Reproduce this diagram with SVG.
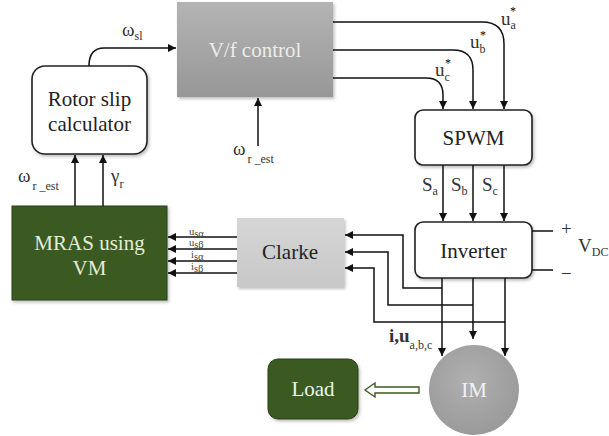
<svg xmlns="http://www.w3.org/2000/svg" width="609" height="436" viewBox="0 0 609 436" font-family="'Liberation Serif', serif">
<defs>
<linearGradient id="gVf" x1="0" y1="0" x2="0" y2="1"><stop offset="0" stop-color="#b4b4b4"/><stop offset="1" stop-color="#979797"/></linearGradient>
<linearGradient id="gCl" x1="0" y1="0" x2="0" y2="1"><stop offset="0" stop-color="#d6d6d6"/><stop offset="1" stop-color="#c8c8c8"/></linearGradient>
<radialGradient id="gIM" cx="0.45" cy="0.4" r="0.6"><stop offset="0" stop-color="#b0b0b0"/><stop offset="1" stop-color="#9a9a9a"/></radialGradient>
<filter id="sh" x="-10%" y="-10%" width="125%" height="130%"><feDropShadow dx="1.5" dy="2" stdDeviation="1.5" flood-color="#000" flood-opacity="0.25"/></filter>
<marker id="ah" viewBox="0 0 10 10" refX="10" refY="5" markerWidth="8" markerHeight="8" markerUnits="userSpaceOnUse" orient="auto"><path d="M0,0 L10,5 L0,10 z" fill="#111"/></marker>
</defs>
<style>
text{font-family:'Liberation Serif','Times New Roman',serif}
.t{font-size:21px;fill:#222;text-anchor:middle}
.s{font-size:19px;fill:#333}
.sub{font-size:12px}
.sm{font-size:10.5px;fill:#444}
.ln{fill:none;stroke:#111;stroke-width:1.5}
.ar{fill:none;stroke:#111;stroke-width:1.5;marker-end:url(#ah)}
.wbox{fill:#fff;stroke:#222;stroke-width:1.6}
.grn{fill:#3b5a20;stroke:#2a3f18;stroke-width:1}
</style>
<rect width="609" height="436" fill="#fff"/>

<g id="vf"><rect x="177" y="2" width="156" height="95" fill="url(#gVf)" filter="url(#sh)"/><text class="t" x="255" y="57" style="fill:#ececec">V/f control</text></g>
<g id="rotorslip"><rect class="wbox" x="32" y="66" width="115" height="88" rx="13" filter="url(#sh)"/><text class="t" x="89.5" y="106">Rotor slip</text><text class="t" x="89.5" y="131">calculator</text></g>
<g id="mras"><rect class="grn" x="12" y="206" width="155" height="94" filter="url(#sh)"/><text class="t" x="89.5" y="250" style="fill:#e4ecd8">MRAS using</text><text class="t" x="89.5" y="275" style="fill:#e4ecd8">VM</text></g>
<g id="clarke"><rect x="237" y="218" width="107" height="69" fill="url(#gCl)" filter="url(#sh)"/><text class="t" x="290" y="259">Clarke</text></g>
<g id="spwm"><rect class="wbox" x="415" y="110" width="117" height="55" rx="8" filter="url(#sh)"/><text class="t" x="473.5" y="145">SPWM</text></g>
<g id="inverter"><rect class="wbox" x="415" y="222" width="117" height="56" rx="8" filter="url(#sh)"/><text class="t" x="473.5" y="258">Inverter</text></g>
<g id="im"><circle cx="474" cy="390" r="45" fill="url(#gIM)"/><text class="t" x="474" y="397" style="fill:#f2f2f2">IM</text></g>
<g id="load"><rect class="grn" x="268" y="359" width="90" height="60" rx="10" filter="url(#sh)"/><text class="t" x="313" y="396" style="fill:#f0f4ea">Load</text></g>

<g id="connectors">
<path class="ar" d="M89,66 C89,54 94,48 104,48 L176,48"/>
<path class="ar" d="M258,146 L258,98"/>
<path class="ar" d="M75,206 L75,155"/>
<path class="ar" d="M103,206 L103,155"/>
<path class="ar" d="M333,22 L482,22 Q504,22 504,44 L504,109"/>
<path class="ar" d="M333,50 L453,50 Q473,50 473,70 L473,109"/>
<path class="ar" d="M333,78 L426,78 Q443,78 443,95 L443,109"/>
<path class="ar" d="M443,165 L443,221"/>
<path class="ar" d="M473,165 L473,221"/>
<path class="ar" d="M504,165 L504,221"/>
<path class="ln" d="M532,231 L553,231 M532,270 L553,270"/>
<path class="ar" d="M237,237 L168,237"/>
<path class="ar" d="M237,249 L168,249"/>
<path class="ar" d="M237,261 L168,261"/>
<path class="ar" d="M237,273 L168,273"/>
<path class="ar" d="M442,278 L442,356"/>
<path class="ar" d="M473,278 L473,339"/>
<path class="ar" d="M505,278 L505,356"/>
<path class="ar" d="M442,288 L403,288 L403,235 L345,235"/>
<path class="ar" d="M473,305 L388,305 L388,252 L345,252"/>
<path class="ar" d="M505,322 L374,322 L374,268 L345,268"/>
<path d="M419,387 L375,387 L375,383 L365,390 L375,397 L375,393 L419,393 Z" fill="#fff" stroke="#3b5a20" stroke-width="1.4"/>
</g>

<g id="labels">
<text class="s" x="122" y="36">ω<tspan class="sub" font-size="11" dy="4">sl</tspan></text>
<text class="s" x="233" y="155">ω<tspan class="sub" font-size="13" dy="8" dx="2">r _est</tspan></text>
<text class="s" x="18" y="182">ω<tspan class="sub" font-size="13" dy="8" dx="2">r _est</tspan></text>
<text class="s" x="111" y="182">γ<tspan class="sub" font-size="13" dy="6">r</tspan></text>
<text class="s" x="501" y="25">u<tspan class="sub" dy="4">a</tspan></text>
<text class="sub" x="510" y="15">*</text>
<text class="s" x="470" y="48">u<tspan class="sub" dy="5">b</tspan></text>
<text class="sub" x="480" y="39">*</text>
<text class="s" x="435" y="76">u<tspan class="sub" dy="5">c</tspan></text>
<text class="sub" x="445" y="67">*</text>
<text class="s" x="422" y="191">S<tspan class="sub" dy="4">a</tspan></text>
<text class="s" x="451" y="191">S<tspan class="sub" dy="4">b</tspan></text>
<text class="s" x="482" y="191">S<tspan class="sub" dy="4">c</tspan></text>
<text class="s" x="561" y="235">+</text>
<text class="s" x="578" y="252">V<tspan class="sub" dy="4">DC</tspan></text>
<text class="s" x="561" y="280">−</text>
<text class="s" x="389" y="342" font-weight="bold" font-size="17">i,u<tspan class="sub" font-weight="normal" dy="7">a,b,c</tspan></text>
<text class="sm" x="189" y="235">u<tspan dy="2">sα</tspan></text>
<text class="sm" x="189" y="246">u<tspan dy="2">sβ</tspan></text>
<text class="sm" x="191" y="258">i<tspan dy="2">sα</tspan></text>
<text class="sm" x="191" y="270">i<tspan dy="2">sβ</tspan></text>
</g>
</svg>
